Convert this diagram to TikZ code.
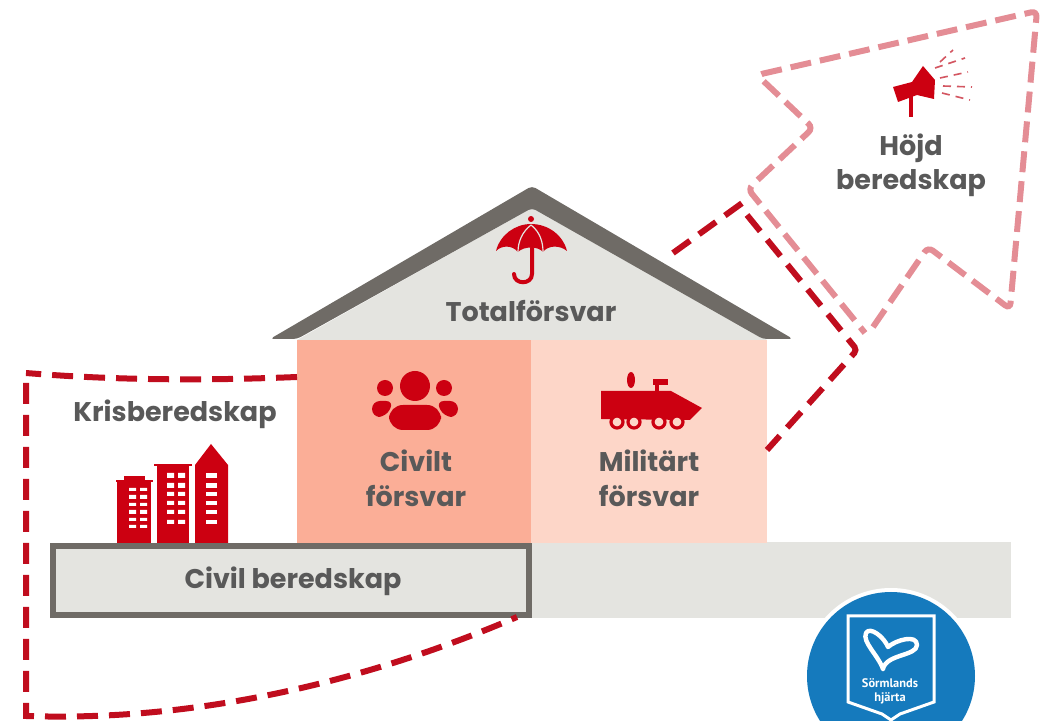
\documentclass[tikz,border=0pt]{standalone}
\usepackage{fontspec}
\setmainfont{Poppins}
\newfontfamily\logofont{PT Sans}
\definecolor{textgrey}{HTML}{595959}
\definecolor{roofgrey}{HTML}{6F6B66}
\definecolor{paleground}{HTML}{E4E4E0}
\definecolor{civilwall}{HTML}{FBAE97}
\definecolor{milwall}{HTML}{FDD6C8}
\definecolor{iconred}{HTML}{CC0011}
\definecolor{dashred}{HTML}{C00D1E}
\definecolor{dashpink}{HTML}{E48D95}
\definecolor{logoblue}{HTML}{157ABD}
\tikzset{
  label/.style={text=textgrey,font=\fontsize{13.5}{16}\selectfont\bfseries,inner sep=0pt},
  crisisline/.style={draw=dashred,line width=3pt,dash pattern=on 10.5pt off 5.5pt},
  alertline/.style={draw=dashpink,line width=3pt,dash pattern=on 10.5pt off 4.5pt,rounded corners=3pt},
  soundray/.style={draw=dashred!70,line width=0.8pt,dash pattern=on 4pt off 3pt},
  wheel/.style={draw=iconred,line width=1.6pt,fill=milwall},
  window/.style={fill=white}
}
\begin{document}
\begin{tikzpicture}[x=0.5pt,y=-0.5pt]
\useasboundingbox (0,0) rectangle (1041,721);
\clip (0,0) rectangle (1041,721);

\coordinate (crisis top) at (297,377);
\coordinate (crisis corner) at (26,373);
\coordinate (crisis low) at (26,716);
\coordinate (crisis end) at (517,617);
\coordinate (roof hit) at (673,253);
\coordinate (fold) at (745,201);
\coordinate (fold two) at (857,350);
\coordinate (wall hit) at (767,450);
\coordinate (alert a) at (873,327);
\coordinate (alert b) at (928,247);
\coordinate (alert c) at (1010,309);
\coordinate (alert d) at (1037,11);
\coordinate (alert e) at (757,75);
\coordinate (alert f) at (813,128);
\coordinate (alert g) at (748,189);
\coordinate (alert h) at (865,333);

\fill[paleground] (531,542) rectangle (1011,618);
\fill[civilwall] (297,340) rectangle (531,543);
\fill[milwall] (531,340) rectangle (767,543);
\fill[paleground] (297,340) -- (532,208) -- (767,340) -- cycle;
\fill[roofgrey,rounded corners=2pt] (270,339) -- (532,186) -- (793,339) -- (763,339) -- (532,208) -- (297,339) -- cycle;
\draw[draw=roofgrey,line width=3pt,fill=paleground] (53,546) rectangle (529,615);

\draw[crisisline] (crisis top) .. controls (200,381) and (110,380) .. (crisis corner);
\draw[crisisline] (26,383) -- (crisis low) .. controls (200,722) and (370,680) .. (crisis end);
\draw[crisisline] (roof hit) -- (fold);
\draw[crisisline,rounded corners=2pt] (747,215) -- (fold two) -- (wall hit);
\draw[alertline] (alert a) -- (alert b) -- (alert c) -- (alert d) -- (alert e) -- (alert f) -- (alert g) -- (alert h);

\node[label] (hojd) at (911,148) {Höjd};
\node[label] (beredskap) at (911,183) {beredskap};
\node[label] (total) at (531,311) {Totalförsvar};
\node[label] (civilt) at (416,461) {Civilt};
\node[label] (civforsvar) at (416,496) {försvar};
\node[label] (militart) at (649,461) {Militärt};
\node[label] (milforsvar) at (649,496) {försvar};
\node[label] (kris) at (175,414) {Krisberedskap};
\node[label] (civil) at (293,581) {Civil beredskap};

\fill[iconred] (531,219) circle (3);
\fill[iconred] (496,251) .. controls (500,235) and (515,224) .. (531,224) .. controls (548,224) and (563,235) .. (567,251) .. controls (560,245) and (548,245) .. (543,252) .. controls (538,246) and (524,246) .. (518,252) .. controls (512,245) and (502,245) .. (496,251) -- cycle;
\draw[paleground,line width=0.6pt] (531,225) .. controls (522,232) and (518,242) .. (518,252);
\draw[paleground,line width=0.6pt] (531,225) .. controls (540,232) and (543,242) .. (543,252);
\draw[iconred,line width=2pt,line cap=round] (532,248) -- (532,274) .. controls (532,285) and (514,285) .. (514,274);

\fill[iconred] (415,386) circle (15);
\fill[iconred] (385,388) circle (8);
\fill[iconred] (444,388) circle (8);
\fill[iconred,rounded corners=7pt] (389,430) -- (389,405) -- (441,405) -- (441,430) -- cycle;
\fill[iconred,rounded corners=4pt] (372,417) -- (372,401) -- (394,401) -- (386,417) -- cycle;
\fill[iconred,rounded corners=4pt] (458,417) -- (458,401) -- (436,401) -- (444,417) -- cycle;

\fill[iconred] (631,380) ellipse (4 and 8);
\fill[iconred] (653,379) rectangle (668,385);
\fill[iconred] (655,384) rectangle (659,392);
\fill[iconred] (601,391) -- (671,391) -- (702,408) -- (690,420) -- (601,419) -- cycle;
\draw[wheel] (617,422) circle (6);
\draw[wheel] (634,422) circle (6);
\draw[wheel] (659,422) circle (6);
\draw[wheel] (677,422) circle (6);

\fill[iconred] (117,543) rectangle (151,481);
\fill[iconred] (116,480) rectangle (153,482);
\fill[iconred] (124,476) rectangle (145,481);
\fill[iconred] (157,543) rectangle (189,465);
\fill[iconred] (154,464) rectangle (192,466);
\fill[iconred] (195,543) -- (195,465) -- (211,444) -- (228,465) -- (228,543) -- cycle;
\fill[window] (129,488) rectangle (136,491) (140,488) rectangle (147,491);
\fill[window] (129,495) rectangle (136,499) (140,495) rectangle (147,499);
\fill[window] (129,503) rectangle (136,506) (140,503) rectangle (147,506);
\fill[window] (129,510) rectangle (136,514) (140,510) rectangle (147,514);
\fill[window] (129,518) rectangle (136,521) (140,518) rectangle (147,521);
\fill[window] (129,525) rectangle (136,528) (140,525) rectangle (147,528);
\fill[window] (167,473) rectangle (174,478) (178,473) rectangle (185,478);
\fill[window] (167,483) rectangle (174,488) (178,483) rectangle (185,488);
\fill[window] (167,492) rectangle (174,496) (178,492) rectangle (185,496);
\fill[window] (167,501) rectangle (174,505) (178,501) rectangle (185,505);
\fill[window] (167,510) rectangle (174,514) (178,510) rectangle (185,514);
\fill[window] (167,520) rectangle (174,524) (178,520) rectangle (185,524);
\fill[window] (206,473) rectangle (217,478);
\fill[window] (206,483) rectangle (217,488);
\fill[window] (206,492) rectangle (217,496);
\fill[window] (206,501) rectangle (217,505);
\fill[window] (206,510) rectangle (217,514);
\fill[window] (206,520) rectangle (217,524);

\fill[iconred] (893,87) -- (912,82) -- (923,66) -- (935,80) -- (934,99) -- (917,95) -- (898,102) -- cycle;
\fill[iconred] (909,96) rectangle (913,117);
\draw[soundray] (940,62) -- (953,50);
\draw[soundray] (935,68) -- (965,58);
\draw[soundray] (940,78) -- (968,72);
\draw[soundray] (943,86) -- (972,87);
\draw[soundray] (942,93) -- (970,100);

\fill[white] (891,676) circle (88);
\fill[logoblue] (891,676) circle (84);
\draw[white,line width=1.5pt,fill=logoblue] (848,616) -- (934,616) -- (934,702) -- (900,714) -- (891,720) -- (882,714) -- (848,702) -- cycle;
\draw[white,line width=2.2pt,line cap=round,line join=round] (883,669) .. controls (878,655) and (862,642) .. (866,633) .. controls (870,626) and (884,637) .. (888,647) .. controls (896,640) and (917,634) .. (917,645) .. controls (917,656) and (886,654) .. (883,669);
\node[text=white,font=\logofont\bfseries\fontsize{6.2}{7}\selectfont,align=center,inner sep=0pt] (hjarta) at (890,691) {Sörmlands\\hjärta};

\end{tikzpicture}
\end{document}
